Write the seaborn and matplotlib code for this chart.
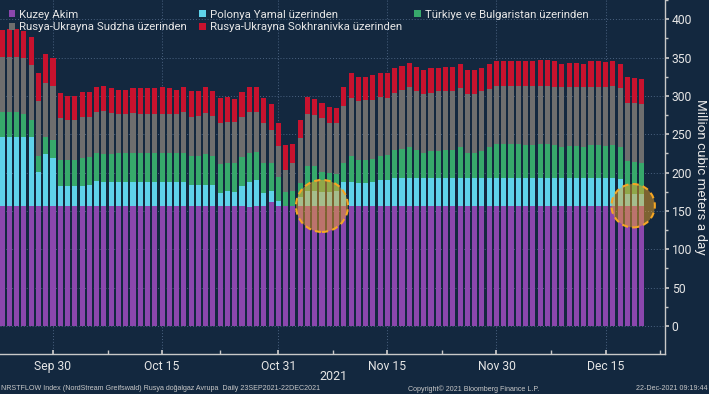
import numpy as np
import pandas as pd
import matplotlib
matplotlib.use("Agg")
import matplotlib.pyplot as plt
import seaborn as sns
from matplotlib.patches import Patch, Ellipse

# ---------------- data (million cubic meters a day) ----------------
dates = pd.date_range("2021-09-23", "2021-12-20", freq="D")

kuzey = [157, 157, 157, 157, 157, 157, 157, 157, 157, 157,
         157, 157, 157, 157, 157, 157, 157, 157, 157, 157,
         157, 157, 157, 157, 157, 157, 157, 157, 157, 157,
         157, 157, 157, 157, 155, 157, 157, 162, 157, 157,
         157, 157, 157, 157, 157, 157, 157, 157, 157, 157,
         157, 157, 157, 157, 157, 157, 157, 157, 157, 157,
         157, 157, 157, 157, 157, 157, 157, 157, 157, 157,
         157, 157, 157, 157, 157, 157, 157, 157, 157, 157,
         157, 157, 157, 157, 157, 157, 157, 157, 157]

polonya = [90, 90, 90, 90, 90, 44, 67, 62, 25, 25,
           25, 25, 27, 32, 31, 31, 31, 31, 31, 31,
           31, 31, 31, 31, 31, 31, 27, 27, 27, 27,
           17, 19, 18, 25, 33, 33, 17, 14, 6, 0,
           0, 11, 19, 19, 18, 18, 19, 31, 31, 29,
           29, 31, 33, 33, 36, 36, 36, 36, 36, 36,
           36, 36, 36, 36, 36, 36, 36, 36, 36, 36,
           36, 36, 36, 36, 36, 36, 36, 36, 36, 36,
           36, 36, 36, 36, 36, 35, 15, 15, 15]

turkiye = [32, 32, 32, 30, 21, 20, 22, 23, 35, 34,
           34, 37, 36, 37, 36, 36, 37, 37, 37, 37,
           37, 37, 37, 37, 37, 37, 37, 37, 40, 37,
           37, 36, 37, 38, 38, 37, 38, 36, 31, 18,
           19, 18, 32, 32, 26, 24, 22, 24, 33, 30,
           31, 30, 31, 33, 36, 38, 41, 36, 33, 35,
           35, 36, 36, 40, 32, 32, 35, 40, 44, 44,
           44, 44, 43, 43, 44, 44, 43, 41, 42, 42,
           41, 43, 43, 42, 43, 41, 43, 42, 41]

sudzha = [72, 72, 72, 72, 72, 72, 71, 71, 54, 52,
          52, 53, 52, 53, 56, 54, 52, 52, 53, 52,
          52, 52, 52, 52, 52, 54, 52, 53, 54, 53,
          53, 54, 54, 52, 53, 52, 52, 44, 41, 28,
          36, 59, 68, 67, 70, 65, 66, 75, 76, 77,
          77, 77, 77, 74, 75, 77, 77, 77, 77, 76,
          78, 77, 77, 77, 77, 77, 78, 76, 76, 76,
          76, 76, 77, 77, 76, 76, 76, 77, 77, 77,
          77, 76, 76, 77, 77, 77, 76, 77, 77]

sokhranivka = [35, 36, 36, 36, 37, 37, 37, 36, 33, 32,
               32, 33, 33, 32, 33, 32, 31, 31, 32, 33,
               33, 33, 34, 33, 31, 33, 33, 32, 33, 33,
               33, 33, 30, 33, 33, 33, 33, 33, 30, 33,
               25, 24, 22, 21, 20, 22, 20, 24, 33, 31,
               31, 32, 32, 33, 33, 31, 32, 32, 31, 33,
               30, 32, 32, 31, 32, 32, 31, 33, 32, 32,
               32, 32, 32, 32, 34, 34, 33, 31, 31, 31,
               31, 33, 33, 32, 33, 32, 33, 32, 32]

series_names = ["Kuzey Akim", "Polonya Yamal üzerinden",
                "Türkiye ve Bulgaristan üzerinden",
                "Rusya-Ukrayna Sudzha üzerinden",
                "Rusya-Ukrayna Sokhranivka üzerinden"]
series_colors = ["#8b47ad", "#5fd3ea", "#37a96b", "#6e6e6e", "#c8122e"]

tick_dates = ["2021-09-30", "2021-10-15", "2021-10-31",
              "2021-11-15", "2021-11-30", "2021-12-15"]
tick_labels = ["Sep 30", "Oct 15", "Oct 31", "Nov 15", "Nov 30", "Dec 15"]

# highlighted days (circles): centre day offset & centre value, radius in px
highlight_days = [44.0, 86.8]
highlight_vals = [156.5, 156.8]
highlight_rpx = [26, 21.7]

# ---------------- build table ----------------
df = pd.DataFrame({"date": dates, "day": np.arange(len(dates)),
                   series_names[0]: kuzey, series_names[1]: polonya,
                   series_names[2]: turkiye, series_names[3]: sudzha,
                   series_names[4]: sokhranivka})
cum = df[series_names].cumsum(axis=1)

bg = "#13283f"
txt = "#e6e6e6"
sns.set_theme(style="dark", rc={"axes.facecolor": bg, "figure.facecolor": bg,
                                "savefig.facecolor": bg})
plt.rcParams["font.family"] = ["Roboto", "DejaVu Sans"]

W, H = 709, 394
fig = plt.figure(figsize=(W / 100, H / 100), dpi=100)
ax_right = 664.7
ax_bottom = 354
ax = fig.add_axes([0, (H - ax_bottom) / H, ax_right / W, ax_bottom / H])
ax.set_facecolor(bg)

# draw stacked bars (top of stack first, then overdraw lower stacks)
for name, col in zip(series_names[::-1], series_colors[::-1]):
    sns.barplot(x=df["day"], y=cum[name], color=col, width=0.7, saturation=1,
                linewidth=0, errorbar=None, ax=ax, zorder=3)

ax.set_xlim(-0.29, 91.14)
ax.set_ylim(-36.5, 425)

# x axis ticks
start = dates[0]
major_pos = [(pd.Timestamp(d) - start).days for d in tick_dates]
ax.set_xticks(major_pos)
ax.set_xticklabels(tick_labels)
minor_pos = [(a + b) / 2 for a, b in zip(major_pos, major_pos[1:] + [major_pos[-1] + 15])]
ax.set_xticks(minor_pos, minor=True)
ax.tick_params(axis="x", which="both", direction="in", length=3, color="#c8c8c8",
               labelsize=8.7, labelcolor=txt, pad=4, bottom=True)
ax.set_xlabel("")

# y axis on the right
ax.yaxis.tick_right()
ax.set_yticks(range(0, 401, 50))
ax.set_yticks(range(25, 426, 50), minor=True)
ax.tick_params(axis="y", which="major", direction="out", length=3, color="#c8c8c8",
               labelsize=8.7, labelcolor=txt, pad=2, right=True, left=False)
ax.tick_params(axis="y", which="minor", direction="out", length=2, color="#c8c8c8",
               right=True, left=False)
ax.set_ylabel("")
ax.text(700.5 / ax_right, 0.5, "Million cubic meters a day", rotation=270,
        transform=ax.transAxes, ha="center", va="center", fontsize=9.6, color=txt)

# grid
ax.grid(True, which="major", axis="both", linestyle=(0, (1, 2)),
        color="#4a6280", linewidth=0.7, zorder=0)
ax.set_axisbelow(True)

for s in ["left", "top"]:
    ax.spines[s].set_visible(False)
for s in ["right", "bottom"]:
    ax.spines[s].set_visible(True)
    ax.spines[s].set_color("#c8c8c8")
    ax.spines[s].set_linewidth(1)

# highlight circles (round in pixels)
px_per_day = (ax_right / (91.14 + 0.29))
px_per_val = (ax_bottom / (425 + 36.5))
for d, v, r in zip(highlight_days, highlight_vals, highlight_rpx):
    e = Ellipse((d, v), width=2 * r / px_per_day, height=2 * r / px_per_val,
                facecolor=(245 / 255, 166 / 255, 35 / 255, 0.47),
                edgecolor="#f5a623", linestyle=(0, (3, 2)), linewidth=1.5, zorder=6)
    ax.add_patch(e)

# legend
handles = [Patch(facecolor=c, edgecolor="none") for c in series_colors]
order = [0, 3, 1, 4, 2]
leg = ax.legend([handles[i] for i in order], [series_names[i] for i in order],
                ncol=3, loc="upper left", bbox_to_anchor=(0.006, 0.985),
                frameon=False, fontsize=8.2, handlelength=0.6, handleheight=0.6,
                handletextpad=0.35, columnspacing=1.05, labelspacing=0.22,
                borderaxespad=0.2, borderpad=0.2)
for t in leg.get_texts():
    t.set_color(txt)

# year + footer
fig.text(333 / W, 1 - 376 / H, "2021", ha="center", va="center", fontsize=9, color=txt)
foot = dict(fontsize=5.1, color="#c8c8c8", va="center", family=["Liberation Sans", "DejaVu Sans"])
fig.text(1 / W, 1 - 389 / H,
         "NRSTFLOW Index (NordStream Greifswald) Rusya doğalgaz Avrupa  Daily 23SEP2021-22DEC2021",
         ha="left", **foot)
fig.text(408 / W, 1 - 389 / H, "Copyright© 2021 Bloomberg Finance L.P.", ha="left", **foot)
fig.text(708 / W, 1 - 389 / H, "22-Dec-2021 09:19:44", ha="right", **foot)

fig.savefig("out.png", dpi=100, facecolor=bg)
